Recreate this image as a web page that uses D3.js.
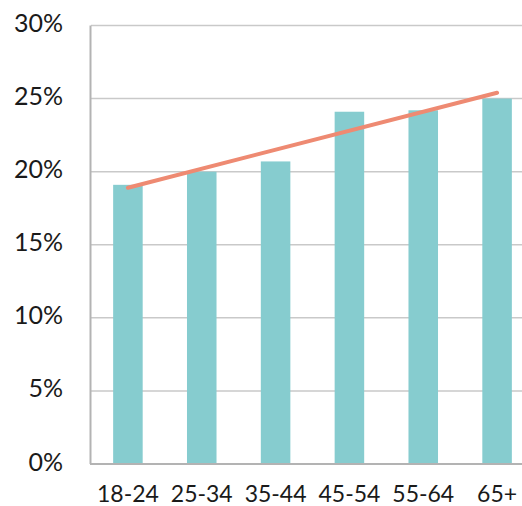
<!DOCTYPE html>
<html>
<head>
<meta charset="utf-8">
<script src="https://cdn.jsdelivr.net/npm/d3@7"></script>
<style>
  html, body { margin: 0; padding: 0; background: #fff; }
  svg { display: block; }
  text { font-family: Lato, "Open Sans", sans-serif; fill: #1a1a1a; }
</style>
</head>
<body>
<svg id="chart" width="522" height="506"></svg>
<script>
const categories = ["18-24", "25-34", "35-44", "45-54", "55-64", "65+"];
const values = [19.1, 20.0, 20.7, 24.1, 24.2, 25.0];
const trendValues = [18.9, 25.4]; // trend line at first and last category
const yTicks = [0, 5, 10, 15, 20, 25, 30];

(function () {
const svg = d3.select("#chart");
const mLeft = 91, mTop = 25.5, mBottom = 464, mRight = 534;

const x = d3.scaleBand().domain(categories).range([mLeft, mRight]).padding(0);
const y = d3.scaleLinear().domain([0, 30]).range([mBottom, mTop]);

// gridlines
svg.append("g").selectAll("line").data(yTicks.filter(d => d > 0)).join("line")
  .attr("x1", mLeft).attr("x2", 522)
  .attr("y1", d => y(d)).attr("y2", d => y(d))
  .attr("stroke", "#c9c9c9").attr("stroke-width", 1.5);

// bars
const bw = x.bandwidth() * 0.4;
svg.append("g").selectAll("rect").data(values).join("rect")
  .attr("x", (d, i) => x(categories[i]) + x.bandwidth() / 2 - bw / 2)
  .attr("width", bw)
  .attr("y", d => y(d))
  .attr("height", d => y(0) - y(d))
  .attr("fill", "#86cccf");

// axes lines
svg.append("line").attr("x1", mLeft - 0.5).attr("x2", mLeft - 0.5)
  .attr("y1", mTop).attr("y2", mBottom).attr("stroke", "#b3b3b3").attr("stroke-width", 2);
svg.append("line").attr("x1", mLeft - 1).attr("x2", 522)
  .attr("y1", mBottom).attr("y2", mBottom).attr("stroke", "#b3b3b3").attr("stroke-width", 2);

// y axis labels
const yAxis = d3.axisLeft(y).tickValues(yTicks).tickFormat(d => d + "%").tickSize(0).tickPadding(0);
const gy = svg.append("g").attr("transform", "translate(63,-2)").call(yAxis);
gy.select(".domain").remove();
gy.selectAll("text").attr("font-size", 25).attr("font-family", "Lato, sans-serif").attr("fill", "#1a1a1a");

// x axis labels
const xAxis = d3.axisBottom(x).tickSize(0).tickPadding(0);
const gx = svg.append("g").attr("transform", "translate(0,486)").call(xAxis);
gx.select(".domain").remove();
gx.selectAll("text").attr("font-size", 23).attr("font-family", "Lato, sans-serif").attr("fill", "#1a1a1a");

// trend line
const first = categories[0], last = categories[categories.length - 1];
svg.append("line")
  .attr("x1", x(first) + x.bandwidth() / 2).attr("y1", y(trendValues[0]))
  .attr("x2", x(last) + x.bandwidth() / 2).attr("y2", y(trendValues[1]))
  .attr("stroke", "#ee8a72").attr("stroke-width", 4).attr("stroke-linecap", "round");
})();
</script>
</body>
</html>
